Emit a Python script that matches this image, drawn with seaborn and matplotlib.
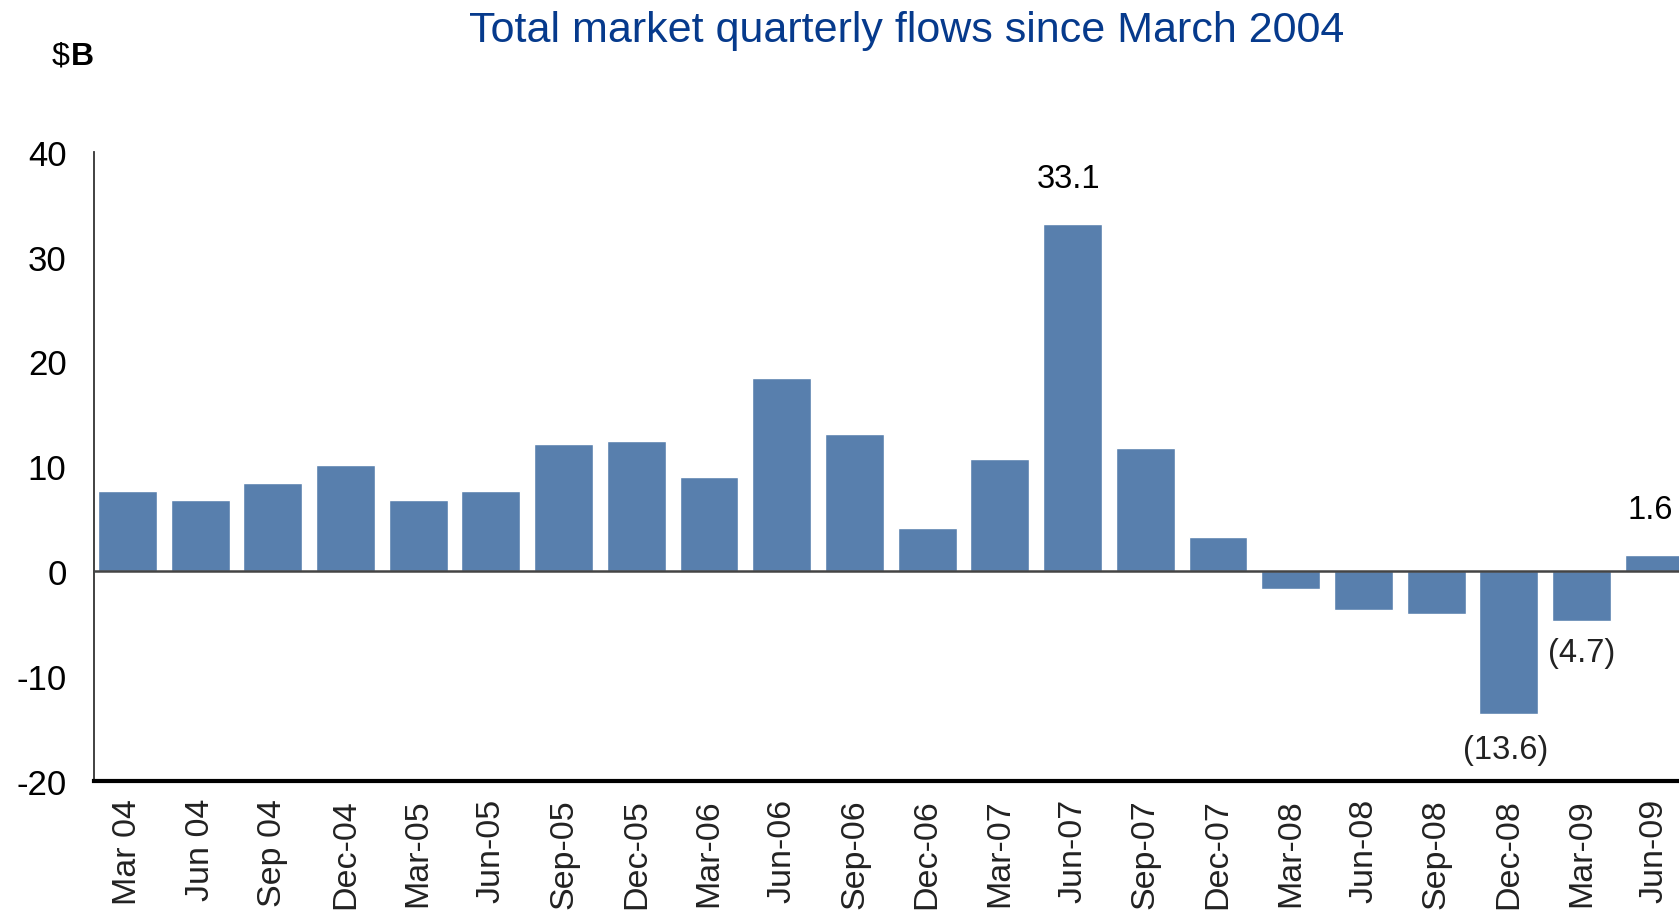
import matplotlib
matplotlib.use("Agg")
import matplotlib.pyplot as plt
import seaborn as sns
import pandas as pd

# Quarterly net flows, $B
quarters = ["Mar 04", "Jun 04", "Sep 04", "Dec-04", "Mar-05", "Jun-05", "Sep-05",
            "Dec-05", "Mar-06", "Jun-06", "Sep-06", "Dec-06", "Mar-07", "Jun-07",
            "Sep-07", "Dec-07", "Mar-08", "Jun-08", "Sep-08", "Dec-08", "Mar-09",
            "Jun-09"]
flows = [7.7, 6.8, 8.4, 10.1, 6.8, 7.7, 12.1, 12.4, 9.0, 18.4, 13.1, 4.1, 10.7,
         33.1, 11.8, 3.3, -1.7, -3.7, -4.1, -13.6, -4.7, 1.6]
labelled = ["Jun-07", "Dec-08", "Mar-09", "Jun-09"]
y_ticks = [-20, -10, 0, 10, 20, 30, 40]

df = pd.DataFrame({"quarter": quarters, "flow": flows})

sns.set_style("white")
plt.rcParams["font.family"] = ["Liberation Sans", "DejaVu Sans"]

fig = plt.figure(figsize=(16.79, 9.12), dpi=100)
ax = fig.add_axes([0.0562, 0.1423, 0.9438, 0.6904])

BAR = "#587FAD"
sns.barplot(data=df, x="quarter", y="flow", color=BAR, saturation=1,
            width=0.81, ax=ax, errorbar=None)

ax.set_xlim(-0.454, 21.34)
ax.set_ylim(-20, 40)
ax.set_yticks(y_ticks)
ax.set_yticklabels([str(t) for t in y_ticks], fontsize=25, color="black")
ax.tick_params(axis="y", length=0, pad=20)
ax.tick_params(axis="x", length=0, pad=12, rotation=90, labelsize=24.5,
               labelcolor="#222222")
ax.set_xlabel("")
ax.set_ylabel("")

for side in ["top", "right"]:
    ax.spines[side].set_visible(False)
ax.spines["left"].set_color("#333333")
ax.spines["left"].set_linewidth(1.3)
ax.spines["bottom"].set_color("black")
ax.spines["bottom"].set_linewidth(3)
ax.axhline(0, color="#444444", linewidth=1.8, zorder=3)

# Value callouts for selected quarters
for i, (q, v) in enumerate(zip(quarters, flows)):
    if q not in labelled:
        continue
    txt = f"{v:.1f}" if v >= 0 else f"({abs(v):.1f})"
    if q == "Mar-09":
        ax.text(i, v - 3.0, txt, ha="center", va="center", fontsize=23.5,
                color="#222222")
    elif v < 0:
        ax.text(i - 0.05, v - 3.4, txt, ha="center", va="center", fontsize=23.5,
                color="#222222")
    else:
        ax.text(i - 0.05, v + 4.3, txt, ha="center", va="center", fontsize=23.5,
                color="black")

fig.text(0.54, 0.966, "Total market quarterly flows since March 2004",
         ha="center", va="center", fontsize=31, color="#063A8C")
fig.text(0.031, 0.938, "$", ha="left", va="center", fontsize=23, color="black")
fig.text(0.0425, 0.938, "B", ha="left", va="center", fontsize=23,
         fontweight="bold", color="black")

fig.savefig("out.png", dpi=100)
